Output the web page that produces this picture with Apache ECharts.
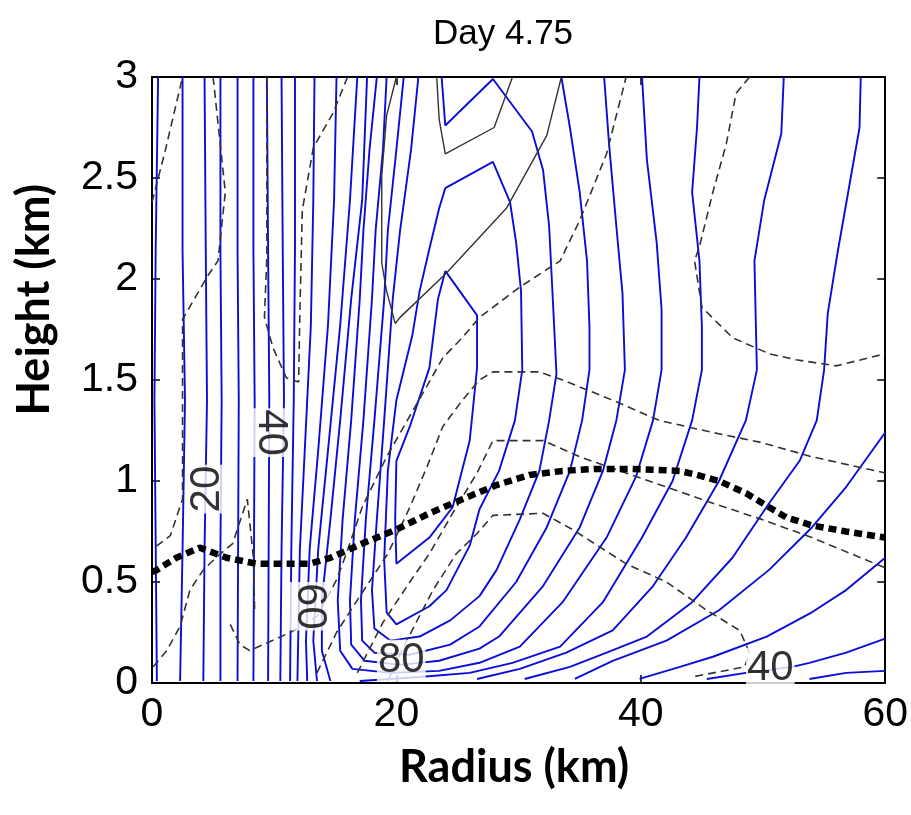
<!DOCTYPE html>
<html><head><meta charset="utf-8">
<script src="https://cdn.jsdelivr.net/npm/echarts/dist/echarts.min.js"></script>
<style>html,body{margin:0;padding:0;background:#fff}#c{width:911px;height:815px}</style>
</head><body><div id="c"></div>
<script>
// ---- axis ticks ----
const xTicks = [0, 20, 40, 60];
const yTicks = [0, 0.5, 1, 1.5, 2, 2.5, 3];
const titleText = 'Day 4.75';
const xName = 'Radius (km)';
const yName = 'Height (km)';

// ---- blue contours (radius km, height km) ----
const blueContours = [
  [[0.5,3],[0.3,2.14],[0.2,1.40],[0.4,0.01]],
  [[2.5,3],[2.5,2.14],[2.7,1.40],[2.5,0.66],[2.3,0.01]],
  [[4.3,3],[4.4,2.14],[4.5,1.40],[4.3,0.66],[4.2,0.01]],
  [[5.6,3],[5.6,2.14],[5.7,1.40],[5.6,0.66],[5.6,0.01]],
  [[7.0,3],[7.0,2.14],[7.1,1.40],[7.0,0.01]],
  [[8.3,3],[8.3,2.14],[8.4,1.40],[8.3,0.01]],
  [[9.4,3],[9.5,2.14],[9.6,1.40],[9.5,0.01]],
  [[10.6,3],[10.7,2.14],[10.8,1.40],[10.6,0.66],[10.5,0.01]],
  [[11.7,3],[11.7,2.14],[11.6,1.40],[11.4,0.66],[11.3,0.01]],
  [[13.3,3],[13.2,2.39],[13.0,1.77],[12.5,1.15],[12.1,0.66],[11.9,0.01]],
  [[15.1,3],[14.9,2.39],[14.4,1.77],[13.6,1.15],[12.9,0.66],[12.6,0.21],[12.7,0.01]],
  [[16.8,3],[16.2,2.39],[15.4,1.77],[14.4,1.15],[13.6,0.66],[13.2,0.21],[13.5,0.01]],
  [[17.6,3],[17.2,2.39],[16.3,1.90],[15.4,1.30],[14.6,0.81],[13.9,0.41],[13.9,0.16],[14.6,0.01]],
  [[18.4,3],[17.8,2.64],[17.3,2.24],[17.0,1.90],[16.3,1.30],[15.6,0.81],[15.2,0.41],[15.4,0.16],[16.4,0.07],[19.5,0.05],[23.5,0.06],[26.8,0.10],[30.1,0.18],[33.6,0.40],[37.2,0.72],[39.6,1.02],[41.0,1.30],[41.7,1.55],[41.7,1.85],[41.3,2.18],[40.5,2.59],[40.1,3]],
  [[19.2,3],[18.9,2.64],[18.3,2.24],[18.0,1.90],[17.3,1.30],[16.6,0.81],[16.2,0.41],[16.3,0.19],[17.4,0.11],[20.3,0.09],[23.5,0.11],[26.8,0.17],[28.4,0.23],[32.0,0.48],[35.0,0.77],[36.9,1.05],[38.0,1.30],[38.7,1.55],[38.5,1.93],[38.0,2.26],[37.4,2.67],[37.0,3]],
  [[20.6,3],[20.0,2.64],[19.3,2.24],[19.0,1.90],[18.2,1.30],[17.5,0.81],[17.1,0.41],[17.2,0.21],[18.2,0.15],[21.1,0.14],[24.4,0.19],[26.8,0.28],[29.8,0.50],[32.3,0.77],[34.2,1.05],[35.2,1.30],[35.8,1.55],[35.8,1.76],[35.6,2.09],[35.0,2.43],[34.2,2.75],[33.5,3]],
  [[21.8,3],[21.2,2.64],[20.3,2.24],[19.7,1.90],[19.0,1.30],[18.4,0.81],[18.0,0.46],[18.2,0.27],[19.5,0.21],[21.9,0.23],[24.4,0.31],[26.8,0.43],[28.2,0.56],[30.1,0.81],[31.7,1.05],[32.5,1.30],[33.1,1.53],[32.8,1.90],[32.5,2.26],[32.0,2.54],[31.1,2.73],[27.9,2.99],[24.0,2.76],[23.7,3]],
  [[24.0,2.45],[27.9,2.58],[29.3,2.38],[29.8,2.18],[30.2,1.94],[30.3,1.55],[29.7,1.30],[28.4,1.05],[26.8,0.86],[26.0,0.68],[24.1,0.46],[22.7,0.38],[20.0,0.29],[19.2,0.35],[19.0,0.61],[19.3,1.05],[20.0,1.40],[21.3,1.72],[21.9,1.94],[22.7,2.15],[23.5,2.35],[24.0,2.45]],
  [[24.0,2.04],[26.6,1.82],[26.6,1.56],[26.0,1.20],[24.6,0.87],[22.7,0.72],[20.0,0.59],[19.9,0.81],[20.0,1.10],[21.1,1.27],[22.7,1.56],[23.4,1.90],[24.0,2.04]],
  [[44.8,3],[44.6,2.75],[44.2,2.43],[44.8,2.09],[45.0,1.76],[45.0,1.55],[44.2,1.30],[42.6,1.00],[40.1,0.72],[36.9,0.40],[33.4,0.18],[29.5,0.10],[26.0,0.05],[21.9,0.03],[17.0,0.01]],
  [[51.7,3],[51.5,2.72],[50.1,2.39],[49.3,2.09],[49.5,1.55],[48.6,1.30],[46.4,1.00],[43.7,0.72],[41.0,0.48],[37.7,0.26],[33.9,0.15],[30.1,0.07],[26.6,0.02]],
  [[58.0,3],[57.9,2.75],[56.1,2.13],[55.3,1.83],[55.0,1.55],[54.4,1.30],[53.0,1.10],[50.5,0.89],[47.5,0.62],[44.2,0.40],[40.5,0.23],[37.2,0.15],[34.2,0.08],[30.5,0.02]],
  [[60,1.24],[56.8,0.97],[54.0,0.77],[50.5,0.56],[46.4,0.36],[42.1,0.21],[37.7,0.11],[34.6,0.02]],
  [[60,0.62],[56.8,0.46],[54.0,0.35],[50.3,0.23],[45.9,0.13],[43.2,0.08],[39.9,0.02]],
  [[60,0.22],[56.8,0.15],[53.8,0.10],[52.4,0.08],[48.6,0.05],[45.4,0.02]],
  [[60,0.06],[56.8,0.05],[53.8,0.02]]
];

// ---- grey dashed contours ----
const dashedContours = [
  [[5.0,3],[6.0,2.43],[5.4,2.09],[4.5,2.01],[2.5,1.80],[2.5,1.40],[2.5,0.91],[1.5,0.73],[0,0.66]],
  [[0,2.38],[1.1,2.64],[2.5,3]],
  [[0.1,0.08],[1.2,0.16],[2.3,0.28],[3.1,0.46],[4.2,0.56],[5.6,0.64],[6.6,0.69],[7.8,0.91],[8.3,0.62],[8.4,0.36]],
  [[9.4,3],[9.4,2.11],[9.2,1.81],[9.9,1.66],[11.0,1.51],[12.0,1.49],[12.1,1.83],[12.3,2.34],[13.2,2.65],[14.8,2.82],[16.0,3]],
  [[6.4,0.29],[7.2,0.19],[8.0,0.16],[11.3,0.25],[13.5,0.33],[15.1,0.51],[15.9,0.64],[17.2,0.87],[19.2,1.12],[20.8,1.29],[22.5,1.47],[23.8,1.61],[25.4,1.71],[26.8,1.81],[30.1,1.96],[33.4,2.09],[35.0,2.29],[37.2,2.62],[38.8,3]],
  [[13.5,0.05],[15.1,0.25],[16.8,0.41],[19.3,0.64],[21.1,0.87],[22.5,1.07],[23.8,1.27],[25.4,1.40],[26.8,1.50],[27.9,1.54],[31.7,1.54],[33.6,1.50],[37.7,1.40],[41.5,1.30],[45.9,1.24],[49.9,1.19],[54.0,1.12],[60,1.04]],
  [[16.8,0.05],[18.9,0.30],[21.1,0.50],[22.7,0.64],[24.6,0.84],[26.6,1.04],[27.9,1.20],[32.0,1.20],[35.0,1.12],[38.3,1.05],[42.1,0.97],[45.9,0.89],[49.9,0.81],[54.0,0.72],[60,0.57]],
  [[19.3,0.01],[20.5,0.17],[23.0,0.46],[24.9,0.64],[26.6,0.74],[27.9,0.83],[32.0,0.84],[34.4,0.76],[38.8,0.59],[42.1,0.50],[45.4,0.36],[48.1,0.26],[48.9,0.15],[48.5,0.08],[44.2,0.03]],
  [[48.9,3],[47.8,2.92],[47.0,2.67],[45.9,2.43],[44.8,2.16],[44.4,2.09],[45.0,1.86],[47.5,1.71],[50.5,1.63],[52.7,1.60],[56.0,1.57],[60,1.63]]
];

// ---- grey solid contours ----
const solidGreyContours = [
  [[23.3,3],[23.5,2.79],[24.0,2.62],[28.0,2.75],[29.5,3]],
  [[20.0,3],[19.2,2.81],[18.8,2.51],[18.8,2.08],[19.2,1.94],[19.9,1.78],[20.3,1.81],[24.1,2.03],[29.0,2.35],[32.3,2.71],[33.5,3]]
];

// ---- thick dotted line (boundary layer top) ----
const boundaryLayerTop = [[0,0.55],[0.4,0.56],[2.0,0.62],[3.9,0.67],[6.1,0.62],[8.6,0.59],[11.3,0.59],[12.9,0.59],[14.6,0.62],[17.2,0.69],[20.0,0.76],[22.7,0.84],[25.4,0.91],[28.2,0.98],[30.9,1.03],[33.6,1.05],[36.4,1.06],[39.1,1.06],[43.2,1.05],[44.6,1.03],[46.4,1.00],[48.6,0.94],[50.5,0.87],[51.9,0.82],[54.0,0.78],[56.8,0.75],[60,0.72]];

// ---- contour labels ----
const labelText = ['20', '40', '60', '80', '40'];
const labelPos = [[4.5,0.96],[9.7,1.24],[12.9,0.38],[20.4,0.11],[50.6,0.07]];
const labelRot = [90, -90, -90, 0, 0];

const FONT = 'Liberation Sans, Arial, sans-serif';
const BOLD = 'bold 45px Lato, "Open Sans", sans-serif';
const series = [];
blueContours.forEach(pts => series.push({
  type: 'line', data: pts, symbol: 'none', silent: true, animation: false, z: 2,
  lineStyle: { color: '#0c0cd8', width: 1.9 }
}));
dashedContours.forEach(pts => series.push({
  type: 'line', data: pts, symbol: 'none', silent: true, animation: false, z: 3,
  lineStyle: { color: '#333333', width: 1.6, type: [8, 5] }
}));
solidGreyContours.forEach(pts => series.push({
  type: 'line', data: pts, symbol: 'none', silent: true, animation: false, z: 3,
  lineStyle: { color: '#333333', width: 1.4 }
}));
series.push({
  type: 'line', data: boundaryLayerTop, symbol: 'none', silent: true, animation: false, z: 4,
  lineStyle: { color: '#000', width: 6.5, type: [8, 5], cap: 'butt' }
});
series.push({
  type: 'scatter', symbolSize: 0, silent: true, animation: false, z: 10,
  data: labelText.map((t, i) => ({ name: t, value: labelPos[i], label: { rotate: labelRot[i] } })),
  label: { show: true, position: 'inside', formatter: '{b}', fontSize: 42, fontFamily: FONT,
    color: '#000', backgroundColor: '#fff', padding: [0, 1], align: 'center', verticalAlign: 'middle' }
});

const axisCommon = {
  type: 'value', splitLine: { show: false },
  axisLine: { show: true, onZero: false, lineStyle: { color: '#000', width: 2 } },
  axisTick: { show: true, inside: true, length: 8, lineStyle: { color: '#000', width: 1.5 } }
};
const chart = echarts.init(document.getElementById('c'), null, { renderer: 'canvas' });
chart.setOption({
  backgroundColor: '#fff',
  animation: false,
  grid: { left: 152, right: 25, top: 77, bottom: 132, containLabel: false },
  xAxis: [
    Object.assign({}, axisCommon, { min: xTicks[0], max: xTicks[xTicks.length - 1], interval: 20, position: 'bottom',
      axisLabel: { fontSize: 41, color: '#000', fontFamily: FONT, margin: 11 } }),
    Object.assign({}, axisCommon, { min: xTicks[0], max: xTicks[xTicks.length - 1], interval: 20, position: 'top',
      axisLabel: { show: false } })
  ],
  yAxis: [
    Object.assign({}, axisCommon, { min: yTicks[0], max: yTicks[yTicks.length - 1], interval: 0.5, position: 'left',
      axisLabel: { fontSize: 41, color: '#000', fontFamily: FONT, margin: 14 } }),
    Object.assign({}, axisCommon, { min: yTicks[0], max: yTicks[yTicks.length - 1], interval: 0.5, position: 'right',
      axisLabel: { show: false } })
  ],
  graphic: [
    { type: 'text', left: 433, top: 17, style: { text: titleText, font: '35px ' + FONT, fill: '#000' } },
    { type: 'text', left: 399, top: 745, style: { text: xName, font: BOLD, fill: '#000' } },
    { type: 'text', left: 12, top: 184, rotation: Math.PI / 2, style: { text: yName, font: BOLD, fill: '#000' } }
  ],
  series: series
});
</script>
</body></html>
